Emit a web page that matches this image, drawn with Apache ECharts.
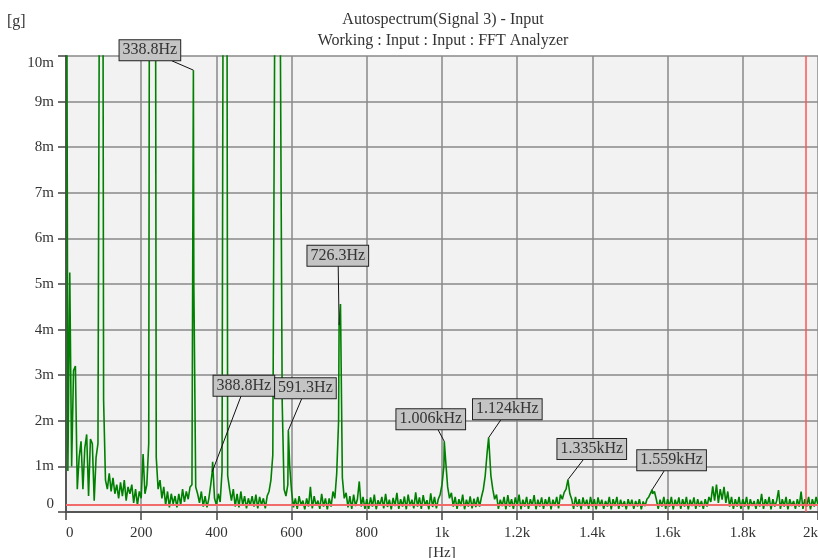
<!DOCTYPE html>
<html>
<head>
<meta charset="utf-8">
<script src="https://cdn.jsdelivr.net/npm/echarts@6/dist/echarts.min.js"></script>
<style>
html,body{margin:0;padding:0;background:#fff;}
#chart{width:818px;height:558px;}
</style>
</head>
<body>
<div id="chart"></div>
<script>
// ---------------- DATA ----------------
// Spectrum bins: 0 Hz .. 2000 Hz, every 5 Hz; amplitude in milli-g (m)
const FREQ_START_HZ = 0;
const FREQ_STEP_HZ = 5;
const amplitudeM = [
  // 0 - 95 Hz
  20, 0.9, 5.25, 1.0, 3.1, 3.2, 0.5, 1.2, 1.55, 0.5, 1.4, 1.7, 0.35, 1.6, 1.5, 0.25, 1.2, 1.5, 15, 30,
  // 100 - 195 Hz
  2.45, 0.7, 0.5, 0.85, 0.45, 0.75, 0.4, 0.6, 0.3, 0.65, 0.35, 0.7, 0.25, 0.55, 0.4, 0.6, 0.2, 0.5, 0.15, 0.45,
  // 200 - 295 Hz
  0.3, 1.27, 0.4, 0.6, 1.5, 30, 20, 30, 1.2, 0.5, 0.7, 0.3, 0.55, 0.15, 0.45, 0.1, 0.4, 0.18, 0.35, 0.1,
  // 300 - 395 Hz
  0.4, 0.15, 0.5, 0.22, 0.45, 0.28, 0.55, 0.6, 5.0, 0.55, 0.4, 0.2, 0.45, 0.12, 0.35, 0.1, 0.3, 0.6, 1.1, 0.3,
  // 400 - 495 Hz
  0.15, 0.4, 0.22, 0.9, 20, 30, 0.8, 0.5, 0.25, 0.5, 0.12, 0.4, 0.1, 0.45, 0.15, 0.35, 0.08, 0.3, 0.14, 0.35,
  // 500 - 595 Hz
  0.12, 0.38, 0.08, 0.33, 0.15, 0.3, 0.08, 0.35, 0.45, 0.7, 1.25, 10.5, 30, 30, 10.5, 2.4, 0.5, 0.35, 0.6, 1.0,
  // 600 - 695 Hz
  0.45, 0.1, 0.3, 0.07, 0.35, 0.15, 0.25, 0.06, 0.3, 0.12, 0.55, 0.08, 0.35, 0.14, 0.25, 0.07, 0.4, 0.12, 0.3, 0.06,
  // 700 - 795 Hz
  0.3, 0.12, 0.45, 0.3, 0.85, 2.0, 4.56, 0.75, 0.3, 0.42, 0.1, 0.35, 0.07, 0.38, 0.13, 0.28, 0.67, 0.12, 0.33, 0.07,
  // 800 - 895 Hz
  0.28, 0.07, 0.32, 0.12, 0.38, 0.06, 0.26, 0.14, 0.33, 0.08, 0.4, 0.11, 0.27, 0.06, 0.31, 0.13, 0.42, 0.07, 0.28, 0.12,
  // 900 - 995 Hz
  0.34, 0.06, 0.38, 0.13, 0.27, 0.08, 0.43, 0.12, 0.32, 0.07, 0.37, 0.14, 0.26, 0.06, 0.41, 0.11, 0.33, 0.08, 0.28, 0.38,
  // 1000 - 1095 Hz
  0.6, 1.0, 1.1, 0.55, 0.3, 0.42, 0.12, 0.33, 0.07, 0.28, 0.13, 0.38, 0.06, 0.27, 0.12, 0.34, 0.08, 0.29, 0.11, 0.33,
  // 1100 - 1195 Hz
  0.12, 0.33, 0.5, 0.8, 1.3, 1.5, 0.8, 0.5, 0.28, 0.38, 0.07, 0.27, 0.13, 0.33, 0.06, 0.37, 0.12, 0.28, 0.07, 0.32,
  // 1200 - 1295 Hz
  0.13, 0.38, 0.06, 0.27, 0.12, 0.33, 0.07, 0.28, 0.14, 0.37, 0.06, 0.27, 0.12, 0.32, 0.07, 0.28, 0.13, 0.33, 0.06, 0.27,
  // 1300 - 1395 Hz
  0.13, 0.33, 0.08, 0.38, 0.28, 0.43, 0.5, 0.71, 0.4, 0.28, 0.07, 0.33, 0.12, 0.28, 0.06, 0.32, 0.13, 0.27, 0.07, 0.33,
  // 1400 - 1495 Hz
  0.12, 0.28, 0.06, 0.32, 0.13, 0.27, 0.07, 0.24, 0.12, 0.33, 0.06, 0.28, 0.13, 0.33, 0.07, 0.27, 0.12, 0.24, 0.06, 0.28,
  // 1500 - 1595 Hz
  0.13, 0.27, 0.07, 0.24, 0.12, 0.28, 0.06, 0.23, 0.13, 0.28, 0.33, 0.3, 0.4, 0.45, 0.28, 0.07, 0.27, 0.12, 0.33, 0.07,
  // 1600 - 1695 Hz
  0.28, 0.12, 0.33, 0.06, 0.27, 0.13, 0.32, 0.07, 0.28, 0.12, 0.33, 0.06, 0.27, 0.13, 0.32, 0.07, 0.28, 0.12, 0.24, 0.07,
  // 1700 - 1795 Hz
  0.28, 0.12, 0.33, 0.22, 0.56, 0.25, 0.6, 0.2, 0.5, 0.27, 0.55, 0.2, 0.45, 0.12, 0.33, 0.07, 0.28, 0.12, 0.33, 0.07,
  // 1800 - 1895 Hz
  0.28, 0.12, 0.33, 0.06, 0.28, 0.13, 0.24, 0.07, 0.28, 0.12, 0.4, 0.07, 0.28, 0.13, 0.33, 0.06, 0.28, 0.12, 0.24, 0.48,
  // 1900 - 1995 Hz
  0.07, 0.28, 0.12, 0.33, 0.06, 0.28, 0.13, 0.24, 0.07, 0.28, 0.12, 0.45, 0.07, 0.28, 0.12, 0.33, 0.06, 0.28, 0.12, 0.33,
  // 2000 Hz
  0.15
];

// Marked peaks
const peakHz     = [338.8, 388.8, 591.3, 726.3, 1006, 1124, 1335, 1559];
const peakAmpM   = [9.69, 0.88, 1.79, 4.1, 1.55, 1.63, 0.71, 0.49];
const peakLabels = ['338.8Hz', '388.8Hz', '591.3Hz', '726.3Hz', '1.006kHz', '1.124kHz', '1.335kHz', '1.559kHz'];

// Tick labels
const xTickLabels = ['0', '200', '400', '600', '800', '1k', '1.2k', '1.4k', '1.6k', '1.8k', '2k'];
const yTickLabels = ['0', '1m', '2m', '3m', '4m', '5m', '6m', '7m', '8m', '9m', '10m'];

// Reference lines
const noiseFloorM = 0.15;
const cursorHz = 1967;

// ---------------- LAYOUT (pixel offsets of annotation boxes from their peak) ----------------
const boxDx    = [-43.5, 31.7, 17.1, -1.3, -13.5, 18.7, 23.8, 19.4];
const boxDy    = [-20, -86.2, -42.2, -69.4, -22.1, -28.4, -30.6, -29.4];
const leaderDx = [-21.5, 29.2, 13.4, -0.9, -6.5, 12.6, 15.6, 12.4];
const leaderDy = [-9.3, -76.7, -31.7, -59.6, -12.1, -18.4, -20.3, -19.4];

// ---------------- BUILD ----------------
const FONT = '"Liberation Serif", "DejaVu Serif", serif';
const points = [];
amplitudeM.forEach(function (v, i) {
  const hz = FREQ_START_HZ + i * FREQ_STEP_HZ;
  if (peakHz.indexOf(hz) === -1) points.push([hz, v]);
});
peakHz.forEach(function (hz, i) { points.push([hz, peakAmpM[i]]); });
points.sort(function (a, b) { return a[0] - b[0]; });

const chart = echarts.init(document.getElementById('chart'), null, { renderer: 'canvas' });

const option = {
  animation: false,
  backgroundColor: '#ffffff',
  grid: {
    left: 66, right: 0, top: 56, bottom: 46,
    show: true, backgroundColor: '#f2f2f2', borderWidth: 0,
    outerBoundsMode: 'none'
  },
  xAxis: {
    type: 'value', min: 0, max: 2000, interval: 200,
    name: '[Hz]', nameLocation: 'middle', nameGap: 31,
    nameTextStyle: { fontFamily: FONT, fontSize: 15, color: '#333', verticalAlign: 'top' },
    axisLine: { show: true, onZero: false, lineStyle: { color: '#555', width: 2 } },
    axisTick: { show: true, length: 8, lineStyle: { color: '#444', width: 1.5 } },
    axisLabel: {
      margin: 14, fontFamily: FONT, fontSize: 15, color: '#333',
      alignMinLabel: 'left', alignMaxLabel: 'right', hideOverlap: false,
      formatter: function (v) { return xTickLabels[Math.round(v / 200)]; }
    },
    splitLine: { show: true, lineStyle: { color: '#888', width: 1.5 } }
  },
  yAxis: {
    type: 'value', min: 0, max: 10, interval: 1,
    axisLine: { show: true, onZero: false, lineStyle: { color: '#555', width: 2 } },
    axisTick: { show: true, length: 8, lineStyle: { color: '#444', width: 1.5 } },
    axisLabel: {
      margin: 12, fontFamily: FONT, fontSize: 15, color: '#333',
      verticalAlignMinLabel: 'bottom', verticalAlignMaxLabel: 'top', hideOverlap: false,
      formatter: function (v) { return yTickLabels[Math.round(v)]; }
    },
    splitLine: { show: true, lineStyle: { color: '#888', width: 1.5 } }
  },
  graphic: [
    { type: 'text', x: 443, y: 20, silent: true,
      style: { text: 'Autospectrum(Signal 3) - Input', font: '16px ' + FONT, fill: '#333',
               align: 'center', verticalAlign: 'middle', textAlign: 'center', textVerticalAlign: 'middle' } },
    { type: 'text', x: 443, y: 41, silent: true,
      style: { text: 'Working : Input : Input : FFT Analyzer', font: '16px ' + FONT, fill: '#333',
               align: 'center', verticalAlign: 'middle', textAlign: 'center', textVerticalAlign: 'middle' } },
    { type: 'text', x: 7, y: 22, silent: true,
      style: { text: '[g]', font: '16px ' + FONT, fill: '#333',
               align: 'left', verticalAlign: 'middle', textAlign: 'left', textVerticalAlign: 'middle' } }
  ],
  series: [
    {
      type: 'line', data: points, showSymbol: false, symbol: 'none', clip: true, z: 3,
      lineStyle: { color: '#008000', width: 1.6 }
    },
    {
      type: 'line', data: [], z: 4,
      markLine: {
        silent: true, symbol: 'none', animation: false, label: { show: false },
        data: [
          { yAxis: noiseFloorM, lineStyle: { color: '#f26b6b', width: 2, type: 'solid' } },
          { xAxis: cursorHz, lineStyle: { color: '#ff5555', width: 1.5, type: 'solid' } }
        ]
      }
    },
    {
      type: 'custom', z: 10, clip: false,
      data: peakHz.map(function (hz, i) { return [hz, peakAmpM[i]]; }),
      renderItem: function (params, api) {
        const i = params.dataIndex;
        const p = api.coord([api.value(0), api.value(1)]);
        return {
          type: 'group',
          children: [
            { type: 'line',
              shape: { x1: p[0] + leaderDx[i], y1: p[1] + leaderDy[i], x2: p[0], y2: p[1] },
              style: { stroke: '#111', lineWidth: 1 } },
            { type: 'text', x: p[0] + boxDx[i], y: p[1] + boxDy[i],
              style: { text: peakLabels[i], font: '16px ' + FONT, fill: '#333',
                       align: 'center', verticalAlign: 'middle',
                       backgroundColor: '#c4c4c4', borderColor: '#222', borderWidth: 1,
                       padding: [2, 3, 2, 3] } }
          ]
        };
      }
    }
  ]
};
chart.setOption(option);
</script>
</body>
</html>
